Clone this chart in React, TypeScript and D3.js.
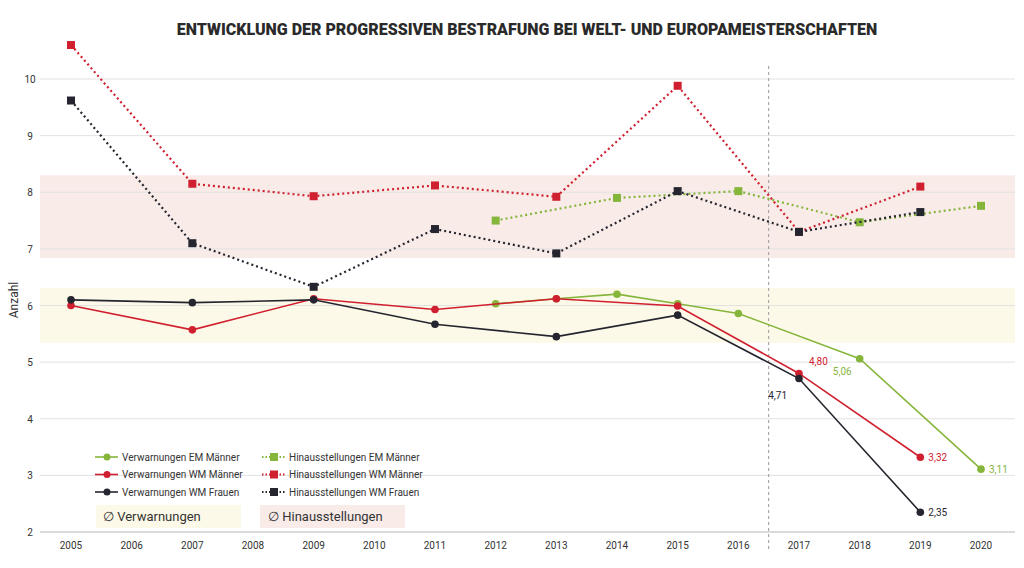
import * as d3 from 'd3'

const years = d3.range(2005, 2021)
const yTicks = [2, 3, 4, 5, 6, 7, 8, 9, 10]

const vEmM: [number, number][] = [[2012, 6.03], [2013, 6.12], [2014, 6.2], [2015, 6.03], [2016, 5.86], [2018, 5.06], [2020, 3.11]]
const vWmM: [number, number][] = [[2005, 6.0], [2007, 5.57], [2009, 6.12], [2011, 5.93], [2013, 6.12], [2015, 5.99], [2017, 4.8], [2019, 3.32]]
const vWmF: [number, number][] = [[2005, 6.1], [2007, 6.05], [2009, 6.1], [2011, 5.67], [2013, 5.45], [2015, 5.83], [2017, 4.71], [2019, 2.35]]
const hEmM: [number, number][] = [[2012, 7.5], [2014, 7.9], [2016, 8.02], [2018, 7.47], [2020, 7.76]]
const hWmM: [number, number][] = [[2005, 10.6], [2007, 8.15], [2009, 7.93], [2011, 8.12], [2013, 7.92], [2015, 9.88], [2017, 7.3], [2019, 8.1]]
const hWmF: [number, number][] = [[2005, 9.62], [2007, 7.1], [2009, 6.33], [2011, 7.35], [2013, 6.92], [2015, 8.02], [2017, 7.3], [2019, 7.65]]

const bandV = [5.34, 6.31]
const bandH = [6.84, 8.3]

const green = '#86b53c'
const red = '#d0202f'
const dark = '#25252f'

const series = [
  { name: 'Verwarnungen EM Männer', data: vEmM, color: green, dotted: false },
  { name: 'Verwarnungen WM Männer', data: vWmM, color: red, dotted: false },
  { name: 'Verwarnungen WM Frauen', data: vWmF, color: dark, dotted: false },
  { name: 'Hinausstellungen EM Männer', data: hEmM, color: green, dotted: true },
  { name: 'Hinausstellungen WM Männer', data: hWmM, color: red, dotted: true },
  { name: 'Hinausstellungen WM Frauen', data: hWmF, color: dark, dotted: true }
]

const labels = [
  { year: 2017, value: 4.8, color: red, dx: 10, dy: -8, anchor: 'start' },
  { year: 2018, value: 5.06, color: green, dx: -8, dy: 16, anchor: 'end' },
  { year: 2017, value: 4.71, color: dark, dx: -12, dy: 20, anchor: 'end' },
  { year: 2019, value: 3.32, color: red, dx: 8, dy: 4, anchor: 'start' },
  { year: 2020, value: 3.11, color: green, dx: 8, dy: 4, anchor: 'start' },
  { year: 2019, value: 2.35, color: dark, dx: 8, dy: 4, anchor: 'start' }
]

const fmt = (v: number) => v.toFixed(2).replace('.', ',')

export default function App() {
  const W = 1024, H = 568
  const x = d3.scaleLinear().domain([2005, 2020]).range([71, 981])
  const y = d3.scaleLinear().domain([2, 10]).range([532, 79])
  const line = d3.line<[number, number]>().x(d => x(d[0])).y(d => y(d[1]))
  const font = 'Roboto, sans-serif'

  return (
    <svg width={W} height={H} style={{ position: 'absolute', left: 0, top: 0, fontFamily: font }}>
      <rect width={W} height={H} fill="#fff" />
      <text x={527} y={35} textAnchor="middle" fontSize={16} fontWeight={900} fill="#2a2a2a">
        ENTWICKLUNG DER PROGRESSIVEN BESTRAFUNG BEI WELT- UND EUROPAMEISTERSCHAFTEN
      </text>
      <rect x={40} width={975} y={y(bandH[1])} height={y(bandH[0]) - y(bandH[1])} fill="#f8ebe8" />
      <rect x={40} width={975} y={y(bandV[1])} height={y(bandV[0]) - y(bandV[1])} fill="#fdf9e8" />
      {yTicks.map(t => (
        <g key={t}>
          <line x1={40} x2={1015} y1={y(t)} y2={y(t)} stroke={t === 2 ? '#ccc' : '#e2e2e2'} strokeWidth={t === 2 ? 1.5 : 1} />
          <text x={30} y={y(t) + 4} fontSize={10} textAnchor="middle" fill="#333">{t}</text>
        </g>
      ))}
      {years.map(yr => (
        <text key={yr} x={x(yr)} y={549} fontSize={10} textAnchor="middle" fill="#333">{yr}</text>
      ))}
      <text transform="translate(18,300) rotate(-90)" fontSize={12} textAnchor="middle" fill="#333">Anzahl</text>
      <line x1={(x(2016) + x(2017)) / 2} x2={(x(2016) + x(2017)) / 2} y1={66} y2={550} stroke="#999" strokeDasharray="3,3" />
      {series.map(s => (
        <g key={s.name}>
          <path d={line(s.data) ?? ''} fill="none" stroke={s.color} strokeWidth={s.dotted ? 2.2 : 1.6}
            strokeDasharray={s.dotted ? '2,3' : undefined} />
          {s.data.map(d => s.dotted
            ? <rect key={d[0]} x={x(d[0]) - 4} y={y(d[1]) - 4} width={8} height={8} fill={s.color} />
            : <circle key={d[0]} cx={x(d[0])} cy={y(d[1])} r={3.8} fill={s.color} />)}
        </g>
      ))}
      {labels.map((l, i) => (
        <text key={i} x={x(l.year) + l.dx} y={y(l.value) + l.dy} fontSize={10} textAnchor={l.anchor as any} fill={l.color}>{fmt(l.value)}</text>
      ))}
      {series.map((s, i) => {
        const lx = i < 3 ? 95 : 262
        const ly = 457 + (i % 3) * 17.5
        return (
          <g key={s.name}>
            <line x1={lx} x2={lx + 23} y1={ly} y2={ly} stroke={s.color} strokeWidth={s.dotted ? 1.8 : 1.6} strokeDasharray={s.dotted ? '1.5,2' : undefined} />
            {s.dotted
              ? <rect x={lx + 8} y={ly - 4} width={8} height={8} fill={s.color} />
              : <circle cx={lx + 12} cy={ly} r={3.5} fill={s.color} />}
            <text x={lx + 27} y={ly + 3.5} fontSize={10} fill="#333">{s.name}</text>
          </g>
        )
      })}
      <rect x={96} y={505} width={145} height={23} fill="#fdf9e8" />
      <text x={103} y={521} fontSize={13} fill="#333">∅ Verwarnungen</text>
      <rect x={260} y={505} width={145} height={23} fill="#f8ebe8" />
      <text x={268} y={521} fontSize={13} fill="#333">∅ Hinausstellungen</text>
    </svg>
  )
}
